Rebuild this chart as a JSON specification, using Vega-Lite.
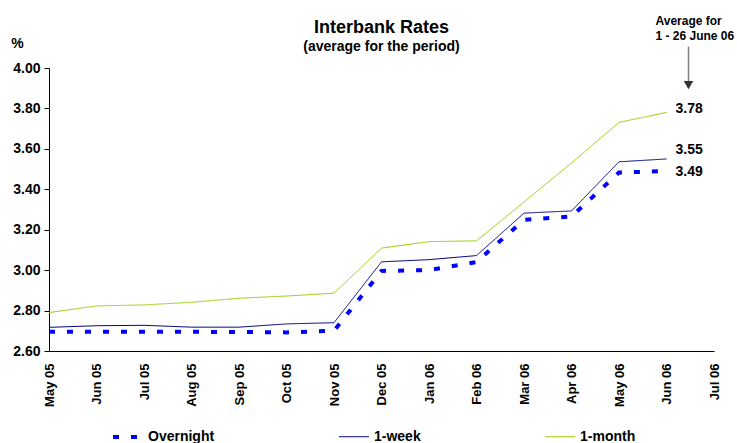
{
  "$schema": "https://vega.github.io/schema/vega-lite/v6.json",
  "width": 665,
  "height": 283,
  "autosize": {"type": "none"},
  "padding": {"left": 49, "top": 68, "right": 23, "bottom": 92},
  "background": "white",
  "config": {
    "view": {"stroke": null},
    "font": "Liberation Sans"
  },
  "title": {
    "text": "Interbank Rates",
    "subtitle": "(average for the period)",
    "fontSize": 18,
    "fontWeight": "bold",
    "subtitleFontSize": 14,
    "subtitleFontWeight": "bold",
    "subtitleColor": "black",
    "color": "black",
    "subtitlePadding": 3,
    "offset": 14,
    "dy": 53,
    "anchor": "middle",
    "font": "Liberation Sans",
    "subtitleFont": "Liberation Sans"
  },
  "datasets": {
    "rates": [
      {"month": "May 05", "series": "Overnight", "rate": 2.695},
      {"month": "Jun 05", "series": "Overnight", "rate": 2.695},
      {"month": "Jul 05", "series": "Overnight", "rate": 2.695},
      {"month": "Aug 05", "series": "Overnight", "rate": 2.695},
      {"month": "Sep 05", "series": "Overnight", "rate": 2.694},
      {"month": "Oct 05", "series": "Overnight", "rate": 2.692},
      {"month": "Nov 05", "series": "Overnight", "rate": 2.70},
      {"month": "Dec 05", "series": "Overnight", "rate": 2.996},
      {"month": "Jan 06", "series": "Overnight", "rate": 3.00},
      {"month": "Feb 06", "series": "Overnight", "rate": 3.04},
      {"month": "Mar 06", "series": "Overnight", "rate": 3.249},
      {"month": "Apr 06", "series": "Overnight", "rate": 3.265},
      {"month": "May 06", "series": "Overnight", "rate": 3.483},
      {"month": "Jun 06", "series": "Overnight", "rate": 3.49},
      {"month": "May 05", "series": "1-week", "rate": 2.717},
      {"month": "Jun 05", "series": "1-week", "rate": 2.725},
      {"month": "Jul 05", "series": "1-week", "rate": 2.727},
      {"month": "Aug 05", "series": "1-week", "rate": 2.718},
      {"month": "Sep 05", "series": "1-week", "rate": 2.718},
      {"month": "Oct 05", "series": "1-week", "rate": 2.734},
      {"month": "Nov 05", "series": "1-week", "rate": 2.74},
      {"month": "Dec 05", "series": "1-week", "rate": 3.041},
      {"month": "Jan 06", "series": "1-week", "rate": 3.052},
      {"month": "Feb 06", "series": "1-week", "rate": 3.072},
      {"month": "Mar 06", "series": "1-week", "rate": 3.282},
      {"month": "Apr 06", "series": "1-week", "rate": 3.293},
      {"month": "May 06", "series": "1-week", "rate": 3.536},
      {"month": "Jun 06", "series": "1-week", "rate": 3.55},
      {"month": "May 05", "series": "1-month", "rate": 2.79},
      {"month": "Jun 05", "series": "1-month", "rate": 2.823},
      {"month": "Jul 05", "series": "1-month", "rate": 2.828},
      {"month": "Aug 05", "series": "1-month", "rate": 2.841},
      {"month": "Sep 05", "series": "1-month", "rate": 2.861},
      {"month": "Oct 05", "series": "1-month", "rate": 2.872},
      {"month": "Nov 05", "series": "1-month", "rate": 2.886},
      {"month": "Dec 05", "series": "1-month", "rate": 3.109},
      {"month": "Jan 06", "series": "1-month", "rate": 3.141},
      {"month": "Feb 06", "series": "1-month", "rate": 3.145},
      {"month": "Mar 06", "series": "1-month", "rate": 3.337},
      {"month": "Apr 06", "series": "1-month", "rate": 3.53},
      {"month": "May 06", "series": "1-month", "rate": 3.731},
      {"month": "Jun 06", "series": "1-month", "rate": 3.78}
    ],
    "note": [
      {"month": "Jun 06", "text1": "Average for", "text2": "1 - 26 June 06"}
    ]
  },
  "data": {"name": "rates"},
  "layer": [
    {
      "mark": {"type": "line", "strokeCap": "butt"},
      "encoding": {
        "x": {
          "field": "month",
          "type": "ordinal",
          "sort": null,
          "scale": {
            "type": "point",
            "padding": 0,
            "domain": ["May 05", "Jun 05", "Jul 05", "Aug 05", "Sep 05", "Oct 05", "Nov 05", "Dec 05", "Jan 06", "Feb 06", "Mar 06", "Apr 06", "May 06", "Jun 06", "Jul 06"]
          },
          "axis": {
            "title": null,
            "labelAngle": 270,
            "labelAlign": "right",
            "labelBaseline": "middle",
            "labelFont": "Liberation Sans",
            "labelFontSize": 13,
            "labelFontWeight": "bold",
            "labelColor": "black",
            "labelPadding": 12,
            "ticks": false,
            "tickSize": 0,
            "domainColor": "black",
            "domainWidth": 1,
            "grid": false
          }
        },
        "y": {
          "field": "rate",
          "type": "quantitative",
          "scale": {"domain": [2.6, 4.0], "zero": false, "nice": false},
          "axis": {
            "title": "%",
            "titleAngle": 0,
            "titleX": -32,
            "titleY": -25,
            "titleAlign": "center",
            "titleBaseline": "middle",
            "titleFont": "Liberation Sans",
            "titleFontSize": 14,
            "titleFontWeight": "bold",
            "titleColor": "black",
            "values": [2.6, 2.8, 3.0, 3.2, 3.4, 3.6, 3.8, 4.0],
            "format": ".2f",
            "labelFont": "Liberation Sans",
            "labelFontSize": 14,
            "labelFontWeight": "bold",
            "labelColor": "black",
            "labelPadding": 4,
            "tickSize": 5,
            "tickColor": "black",
            "domainColor": "black",
            "grid": false
          }
        },
        "color": {
          "field": "series",
          "type": "nominal",
          "scale": {"domain": ["Overnight", "1-week", "1-month"], "range": ["#0000FF", "#000080", "#99CC00"]},
          "legend": {
            "title": null,
            "orient": "none",
            "direction": "horizontal",
            "columns": 3,
            "legendX": 62,
            "legendY": 352,
            "symbolType": "stroke",
            "symbolSize": 900,
            "labelFont": "Liberation Sans",
            "labelFontSize": 14,
            "labelFontWeight": "bold",
            "labelColor": "black",
            "labelOffset": 3,
            "columnPadding": 122
          }
        },
        "strokeDash": {
          "field": "series",
          "type": "nominal",
          "scale": {"domain": ["Overnight", "1-week", "1-month"], "range": [[6, 12], [1, 0], [1, 0]]},
          "legend": null
        },
        "strokeWidth": {
          "field": "series",
          "type": "nominal",
          "scale": {"type": "ordinal", "domain": ["Overnight", "1-week", "1-month"], "range": [4, 1, 1]},
          "legend": null
        }
      }
    },
    {
      "transform": [{"filter": "datum.month === 'Jun 06' && datum.series === '1-month'"}],
      "mark": {"type": "text", "align": "left", "baseline": "middle", "dx": 9, "dy": -3, "fontSize": 14, "fontWeight": "bold", "font": "Liberation Sans", "color": "black"},
      "encoding": {
        "x": {"field": "month", "type": "ordinal", "sort": null},
        "y": {"field": "rate", "type": "quantitative"},
        "text": {"field": "rate", "type": "quantitative", "format": ".2f"}
      }
    },
    {
      "transform": [{"filter": "datum.month === 'Jun 06' && datum.series === '1-week'"}],
      "mark": {"type": "text", "align": "left", "baseline": "middle", "dx": 9, "dy": -9, "fontSize": 14, "fontWeight": "bold", "font": "Liberation Sans", "color": "black"},
      "encoding": {
        "x": {"field": "month", "type": "ordinal", "sort": null},
        "y": {"field": "rate", "type": "quantitative"},
        "text": {"field": "rate", "type": "quantitative", "format": ".2f"}
      }
    },
    {
      "transform": [{"filter": "datum.month === 'Jun 06' && datum.series === 'Overnight'"}],
      "mark": {"type": "text", "align": "left", "baseline": "middle", "dx": 9, "dy": 1, "fontSize": 14, "fontWeight": "bold", "font": "Liberation Sans", "color": "black"},
      "encoding": {
        "x": {"field": "month", "type": "ordinal", "sort": null},
        "y": {"field": "rate", "type": "quantitative"},
        "text": {"field": "rate", "type": "quantitative", "format": ".2f"}
      }
    },
    {
      "data": {"name": "note"},
      "mark": {"type": "text", "align": "left", "baseline": "alphabetic", "dx": -11, "fontSize": 12, "fontWeight": "bold", "font": "Liberation Sans", "color": "black"},
      "encoding": {
        "x": {"field": "month", "type": "ordinal", "sort": null},
        "y": {"datum": 4.2147},
        "text": {"field": "text1"}
      }
    },
    {
      "data": {"name": "note"},
      "mark": {"type": "text", "align": "left", "baseline": "alphabetic", "dx": -11, "fontSize": 12, "fontWeight": "bold", "font": "Liberation Sans", "color": "black"},
      "encoding": {
        "x": {"field": "month", "type": "ordinal", "sort": null},
        "y": {"datum": 4.138},
        "text": {"field": "text2"}
      }
    },
    {
      "data": {"name": "note"},
      "mark": {"type": "rule", "color": "#808080", "strokeWidth": 1.5, "xOffset": 22},
      "encoding": {
        "x": {"field": "month", "type": "ordinal", "sort": null},
        "y": {"datum": 4.106},
        "y2": {"datum": 3.93}
      }
    },
    {
      "data": {"name": "note"},
      "mark": {"type": "point", "shape": "triangle-down", "filled": true, "color": "#333333", "size": 90, "opacity": 1, "xOffset": 22},
      "encoding": {
        "x": {"field": "month", "type": "ordinal", "sort": null},
        "y": {"datum": 3.915}
      }
    }
  ]
}
